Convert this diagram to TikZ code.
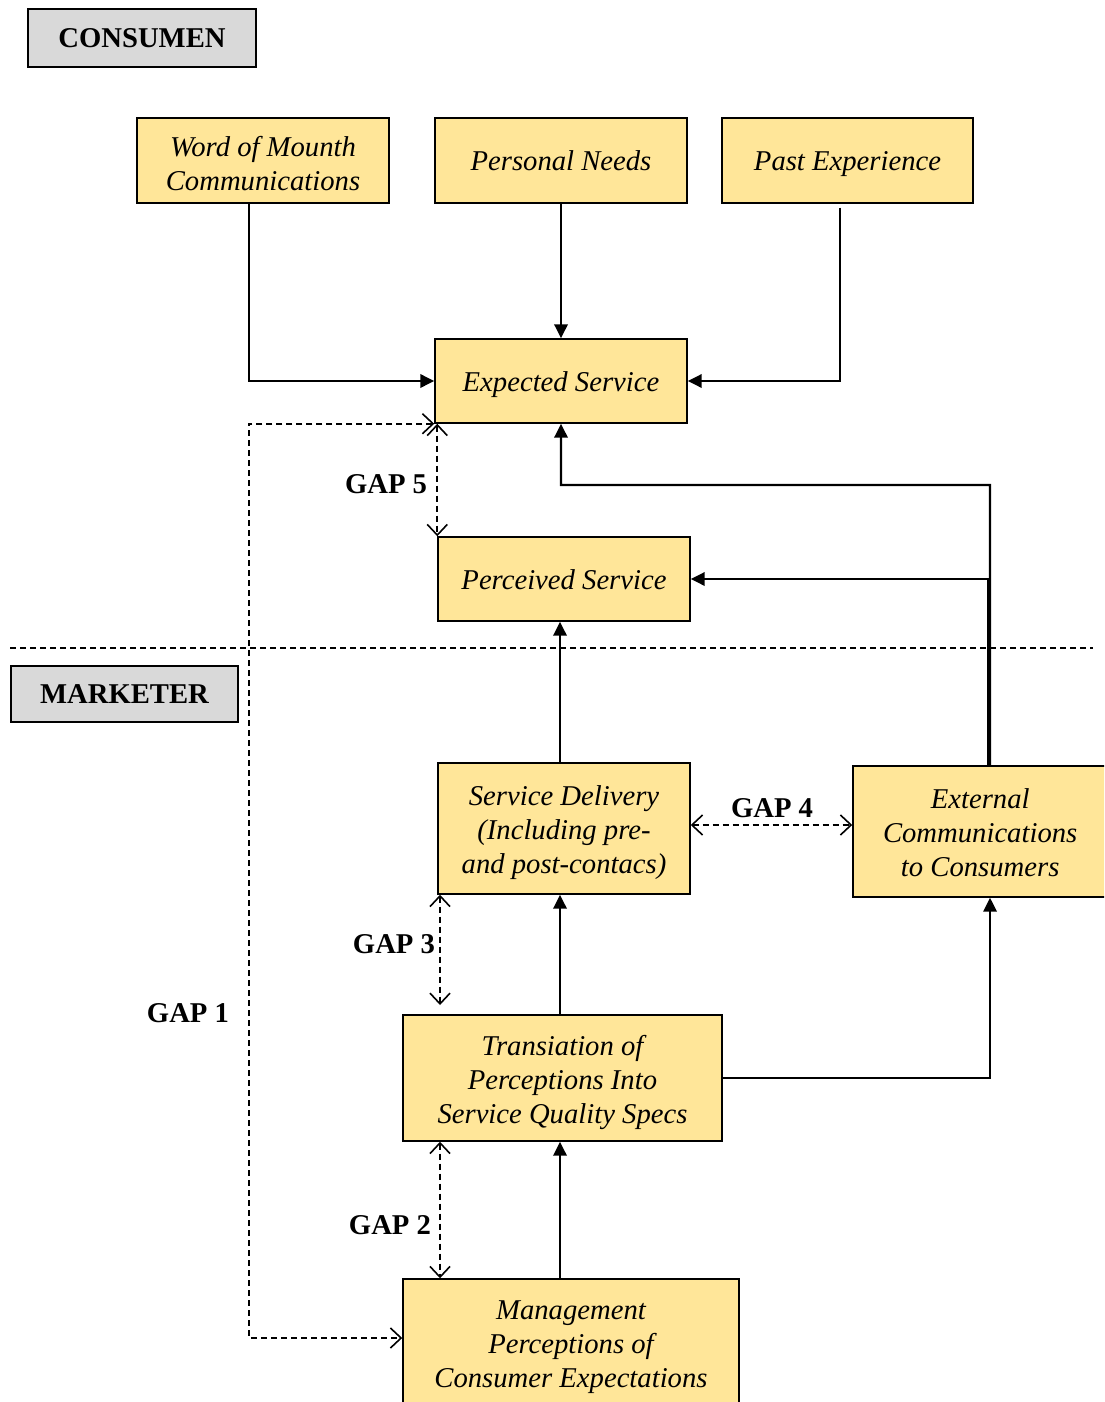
\documentclass[tikz,border=0pt]{standalone}
\usepackage{fontspec}
\setmainfont{Liberation Serif}
\usetikzlibrary{arrows.meta}
\definecolor{boxyellow}{HTML}{FFE699}
\definecolor{boxgray}{HTML}{D9D9D9}
\begin{document}
\begin{tikzpicture}[x=0.75pt,y=-0.75pt,
  box/.style={draw=black, line width=1.1pt, fill=boxyellow, inner sep=0pt},
  boxtext/.style={align=center, inner sep=0pt, font=\fontsize{21.5}{25.5}\selectfont\itshape},
  tag/.style={draw=black, line width=2pt, fill=boxgray, inner sep=0pt,
    font=\fontsize{21.5}{25.5}\selectfont\bfseries},
  gaplabel/.style={font=\fontsize{21.5}{25.5}\selectfont\bfseries, inner sep=0pt},
  conn/.style={line width=1.8pt, -{Triangle[length=10.5pt,width=10pt]}},
  barb/.tip={Straight Barb[length=8pt,width=15pt,line width=1.2pt]},
  gap/.style={line width=1.2pt, dash pattern=on 4.5pt off 3pt, barb-barb},
  sep/.style={line width=1.1pt, dash pattern=on 4.5pt off 3pt}
]
\useasboundingbox (0,0) rectangle (1104,1402);
\clip (0,0) rectangle (1104,1402);

% labels
\node[tag, minimum width=171pt, minimum height=43.5pt] (cons) at (142,38) {CONSUMEN};
\node[tag, minimum width=170.25pt, minimum height=42pt] (mark) at (124.5,694) {MARKETER};

% boxes
\node[box, minimum width=189pt, minimum height=63.75pt] (word) at (263,160.5) {};
\node[boxtext] (word-t) at ([yshift=-4.85pt]word.center) {\strut Word of Mounth\\\strut Communications};
\node[box, minimum width=189pt, minimum height=63.75pt] (need) at (561,160.5) {};
\node[boxtext] (need-t) at ([yshift=-2.6pt]need.center) {\strut Personal Needs};
\node[box, minimum width=188.25pt, minimum height=63.75pt] (past) at (847.5,160.5) {};
\node[boxtext] (past-t) at ([yshift=-2.6pt]past.center) {\strut Past Experience};
\node[box, minimum width=189pt, minimum height=63pt] (exp) at (561,381) {};
\node[boxtext] (exp-t) at ([yshift=-2.6pt]exp.center) {\strut Expected Service};
\node[box, minimum width=189pt, minimum height=63pt] (per) at (564,579) {};
\node[boxtext] (per-t) at ([yshift=-2.6pt]per.center) {\strut Perceived Service};
\node[box, minimum width=189pt, minimum height=98.25pt] (del) at (564,828.5) {};
\node[boxtext] (del-t) at ([yshift=-3.4pt]del.center) {\strut Service Delivery\\\strut (Including pre-\\\strut and post-contacs)};
\node[box, minimum width=192.75pt, minimum height=98.25pt] (ext) at (981.5,831.5) {};
\node[boxtext] (ext-t) at ([xshift=-1pt,yshift=-3.3pt]ext.center) {\strut External\\\strut Communications\\\strut to Consumers};
\node[box, minimum width=239.25pt, minimum height=94.5pt] (trans) at (562.5,1078) {};
\node[boxtext] (trans-t) at ([yshift=-3.3pt]trans.center) {\strut Transiation of\\\strut Perceptions Into\\\strut Service Quality Specs};
\node[box, minimum width=252pt, minimum height=98.25pt] (mgmt) at (571,1344.5) {};
\node[boxtext] (mgmt-t) at ([yshift=-1.9pt]mgmt.center) {\strut Management\\\strut Perceptions of\\\strut Consumer Expectations};

% separator
\coordinate (s1) at (10,648);
\coordinate (s2) at (1093,648);
\draw[sep] (s1) -- (s2);

% solid connectors
\draw[conn] ([xshift=-10.5pt]word.south) |- (exp.west);
\draw[conn] (need.south) -- (exp.north);
\draw[conn] ([xshift=-5.6pt,yshift=-3pt]past.south) |- (exp.east);
\coordinate (k1) at (990,485);
\draw[conn] ([xshift=6.4pt]ext.north) -- (k1) -| (exp.south);
\draw[conn] ([xshift=4.9pt]ext.north) |- (per.east);
\draw[conn] ([xshift=-3pt]del.north) -- ([xshift=-3pt]per.south);
\draw[conn] ([xshift=-3pt]del.south |- trans.north) -- ([xshift=-3pt]del.south);
\draw[conn] (trans.east) -| ([xshift=6.4pt]ext.south);
\draw[conn] ([xshift=-3pt]del.south |- mgmt.north) -- ([xshift=-3pt]del.south |- trans.south);

% gaps
\draw[gap] ([xshift=2.25pt]exp.south west) -- (per.north west);
\node[gaplabel] (g5l) at (386,484) {GAP 5};

\coordinate (g1) at (249,1338);
\draw[gap] (exp.south west) -| (g1) -- (g1 -| mgmt.west);
\node[gaplabel] (g1l) at (188,1013) {GAP 1};

\coordinate (g4) at (0,825);
\draw[gap] (del.east |- g4) -- (ext.west |- g4);
\node[gaplabel] (g4l) at (772,808) {GAP 4};

\coordinate (g3) at (440,1005);
\draw[gap] (del.south west -| g3) -- (g3);
\node[gaplabel] (g3l) at (394,944) {GAP 3};

\draw[gap] (trans.south west -| g3) -- (mgmt.north west -| g3);
\node[gaplabel] (g2l) at (390,1225) {GAP 2};
\end{tikzpicture}
\end{document}
